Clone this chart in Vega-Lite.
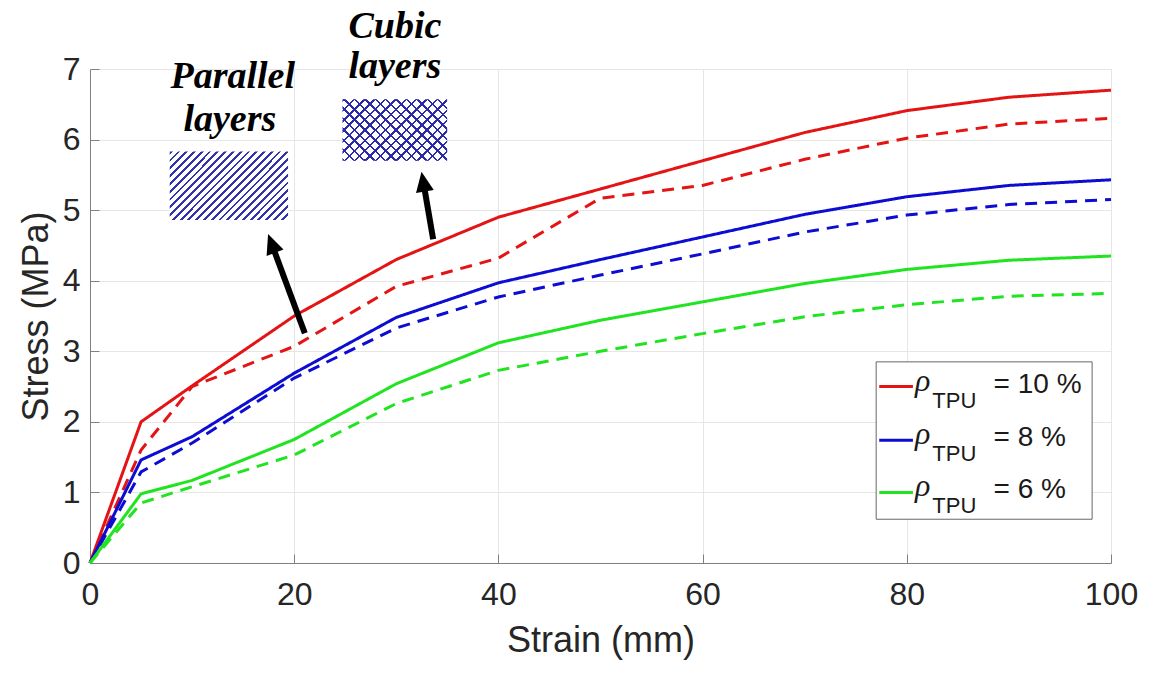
{
  "$schema": "https://vega.github.io/schema/vega-lite/v6.json",
  "width": 1021,
  "height": 494,
  "autosize": {"type": "none"},
  "padding": {"left": 90, "top": 69, "right": 43, "bottom": 115},
  "background": "white",
  "config": {
    "view": {"stroke": "#c8c8c8"},
    "axis": {
      "labelFont": "Liberation Sans",
      "labelFontSize": 32,
      "labelColor": "#262626",
      "titleFont": "Liberation Sans",
      "titleFontSize": 36,
      "titleFontWeight": "normal",
      "titleColor": "#262626",
      "gridColor": "#e6e6e6",
      "domainColor": "#808080",
      "tickColor": "#808080",
      "labelFlush": false,
      "labelOverlap": false
    }
  },
  "datasets": {
    "curves": [
      {"strain": 0, "stress": 0, "rho": "10 %", "type": "solid"},
      {"strain": 5, "stress": 2.0, "rho": "10 %", "type": "solid"},
      {"strain": 10, "stress": 2.51, "rho": "10 %", "type": "solid"},
      {"strain": 20, "stress": 3.5, "rho": "10 %", "type": "solid"},
      {"strain": 30, "stress": 4.3, "rho": "10 %", "type": "solid"},
      {"strain": 40, "stress": 4.9, "rho": "10 %", "type": "solid"},
      {"strain": 50, "stress": 5.3, "rho": "10 %", "type": "solid"},
      {"strain": 60, "stress": 5.7, "rho": "10 %", "type": "solid"},
      {"strain": 70, "stress": 6.1, "rho": "10 %", "type": "solid"},
      {"strain": 80, "stress": 6.41, "rho": "10 %", "type": "solid"},
      {"strain": 90, "stress": 6.6, "rho": "10 %", "type": "solid"},
      {"strain": 100, "stress": 6.7, "rho": "10 %", "type": "solid"},
      {"strain": 0, "stress": 0, "rho": "10 %", "type": "dashed"},
      {"strain": 5, "stress": 1.6, "rho": "10 %", "type": "dashed"},
      {"strain": 10, "stress": 2.5, "rho": "10 %", "type": "dashed"},
      {"strain": 20, "stress": 3.07, "rho": "10 %", "type": "dashed"},
      {"strain": 30, "stress": 3.92, "rho": "10 %", "type": "dashed"},
      {"strain": 40, "stress": 4.32, "rho": "10 %", "type": "dashed"},
      {"strain": 50, "stress": 5.17, "rho": "10 %", "type": "dashed"},
      {"strain": 60, "stress": 5.35, "rho": "10 %", "type": "dashed"},
      {"strain": 70, "stress": 5.72, "rho": "10 %", "type": "dashed"},
      {"strain": 80, "stress": 6.02, "rho": "10 %", "type": "dashed"},
      {"strain": 90, "stress": 6.22, "rho": "10 %", "type": "dashed"},
      {"strain": 100, "stress": 6.3, "rho": "10 %", "type": "dashed"},
      {"strain": 0, "stress": 0, "rho": "8 %", "type": "solid"},
      {"strain": 5, "stress": 1.46, "rho": "8 %", "type": "solid"},
      {"strain": 10, "stress": 1.79, "rho": "8 %", "type": "solid"},
      {"strain": 20, "stress": 2.69, "rho": "8 %", "type": "solid"},
      {"strain": 30, "stress": 3.48, "rho": "8 %", "type": "solid"},
      {"strain": 40, "stress": 3.97, "rho": "8 %", "type": "solid"},
      {"strain": 50, "stress": 4.3, "rho": "8 %", "type": "solid"},
      {"strain": 60, "stress": 4.62, "rho": "8 %", "type": "solid"},
      {"strain": 70, "stress": 4.94, "rho": "8 %", "type": "solid"},
      {"strain": 80, "stress": 5.19, "rho": "8 %", "type": "solid"},
      {"strain": 90, "stress": 5.35, "rho": "8 %", "type": "solid"},
      {"strain": 100, "stress": 5.43, "rho": "8 %", "type": "solid"},
      {"strain": 0, "stress": 0, "rho": "8 %", "type": "dashed"},
      {"strain": 5, "stress": 1.29, "rho": "8 %", "type": "dashed"},
      {"strain": 10, "stress": 1.7, "rho": "8 %", "type": "dashed"},
      {"strain": 20, "stress": 2.62, "rho": "8 %", "type": "dashed"},
      {"strain": 30, "stress": 3.33, "rho": "8 %", "type": "dashed"},
      {"strain": 40, "stress": 3.77, "rho": "8 %", "type": "dashed"},
      {"strain": 50, "stress": 4.08, "rho": "8 %", "type": "dashed"},
      {"strain": 60, "stress": 4.38, "rho": "8 %", "type": "dashed"},
      {"strain": 70, "stress": 4.69, "rho": "8 %", "type": "dashed"},
      {"strain": 80, "stress": 4.93, "rho": "8 %", "type": "dashed"},
      {"strain": 90, "stress": 5.08, "rho": "8 %", "type": "dashed"},
      {"strain": 100, "stress": 5.15, "rho": "8 %", "type": "dashed"},
      {"strain": 0, "stress": 0, "rho": "6 %", "type": "solid"},
      {"strain": 5, "stress": 0.98, "rho": "6 %", "type": "solid"},
      {"strain": 10, "stress": 1.17, "rho": "6 %", "type": "solid"},
      {"strain": 20, "stress": 1.75, "rho": "6 %", "type": "solid"},
      {"strain": 30, "stress": 2.54, "rho": "6 %", "type": "solid"},
      {"strain": 40, "stress": 3.12, "rho": "6 %", "type": "solid"},
      {"strain": 50, "stress": 3.44, "rho": "6 %", "type": "solid"},
      {"strain": 60, "stress": 3.7, "rho": "6 %", "type": "solid"},
      {"strain": 70, "stress": 3.96, "rho": "6 %", "type": "solid"},
      {"strain": 80, "stress": 4.16, "rho": "6 %", "type": "solid"},
      {"strain": 90, "stress": 4.29, "rho": "6 %", "type": "solid"},
      {"strain": 100, "stress": 4.35, "rho": "6 %", "type": "solid"},
      {"strain": 0, "stress": 0, "rho": "6 %", "type": "dashed"},
      {"strain": 5, "stress": 0.85, "rho": "6 %", "type": "dashed"},
      {"strain": 10, "stress": 1.08, "rho": "6 %", "type": "dashed"},
      {"strain": 20, "stress": 1.53, "rho": "6 %", "type": "dashed"},
      {"strain": 30, "stress": 2.26, "rho": "6 %", "type": "dashed"},
      {"strain": 40, "stress": 2.73, "rho": "6 %", "type": "dashed"},
      {"strain": 50, "stress": 3.0, "rho": "6 %", "type": "dashed"},
      {"strain": 60, "stress": 3.25, "rho": "6 %", "type": "dashed"},
      {"strain": 70, "stress": 3.49, "rho": "6 %", "type": "dashed"},
      {"strain": 80, "stress": 3.66, "rho": "6 %", "type": "dashed"},
      {"strain": 90, "stress": 3.78, "rho": "6 %", "type": "dashed"},
      {"strain": 100, "stress": 3.82, "rho": "6 %", "type": "dashed"}
    ],
    "legend": [
      {"rho": "10 %", "label": "= 10 %", "ly": 2.5},
      {"rho": "8 %", "label": "= 8 %", "ly": 1.74},
      {"rho": "6 %", "label": "= 6 %", "ly": 1.0}
    ],
    "notes": [
      {"t": "Parallel", "x": 13.98, "y": 6.73},
      {"t": "layers", "x": 13.7, "y": 6.12},
      {"t": "Cubic", "x": 29.86, "y": 7.44},
      {"t": "layers", "x": 29.86, "y": 6.87}
    ],
    "arrows": [
      {"x": 21.04, "y": 3.255, "x2": 18.0, "y2": 4.442},
      {"x": 33.61, "y": 4.587, "x2": 32.74, "y2": 5.321}
    ]
  },
  "layer": [
    {
      "data": {"name": "curves"},
      "mark": {"type": "line", "strokeWidth": 3},
      "encoding": {
        "x": {
          "field": "strain", "type": "quantitative", "title": "Strain (mm)",
          "scale": {"domain": [0, 100], "nice": false},
          "axis": {"values": [0, 20, 40, 60, 80, 100], "format": "d", "grid": true, "ticks": true, "tickSize": -9, "labelPadding": 25, "titlePadding": 13}
        },
        "y": {
          "field": "stress", "type": "quantitative", "title": "Stress (MPa)",
          "scale": {"domain": [0, 7], "nice": false},
          "axis": {"values": [0, 1, 2, 3, 4, 5, 6, 7], "format": "d", "grid": true, "ticks": true, "tickSize": -9, "labelPadding": 19, "titlePadding": 7}
        },
        "color": {
          "field": "rho", "type": "nominal",
          "scale": {"domain": ["10 %", "8 %", "6 %"], "range": ["#e41414", "#0c0cd2", "#1fe41f"]},
          "legend": null
        },
        "strokeDash": {
          "field": "type", "type": "nominal",
          "scale": {"domain": ["solid", "dashed"], "range": [[1, 0], [12, 8]]},
          "legend": null
        }
      }
    },
    {
      "data": {"values": [{"x": 7.81, "x2": 19.4, "y": 4.86, "y2": 5.83}]},
      "mark": {
        "type": "rect",
        "fill": {
          "gradient": "linear", "x1": 0, "y1": 0, "x2": 1.183, "y2": 0.683,
          "stops": [
            {"offset": 0, "color": "#3333aa"}, {"offset": 0.015, "color": "#3333aa"}, {"offset": 0.015, "color": "#ffffff"}, {"offset": 0.0417, "color": "#ffffff"},
            {"offset": 0.0417, "color": "#3333aa"}, {"offset": 0.0567, "color": "#3333aa"}, {"offset": 0.0567, "color": "#ffffff"}, {"offset": 0.0833, "color": "#ffffff"},
            {"offset": 0.0833, "color": "#3333aa"}, {"offset": 0.0983, "color": "#3333aa"}, {"offset": 0.0983, "color": "#ffffff"}, {"offset": 0.125, "color": "#ffffff"},
            {"offset": 0.125, "color": "#3333aa"}, {"offset": 0.14, "color": "#3333aa"}, {"offset": 0.14, "color": "#ffffff"}, {"offset": 0.1667, "color": "#ffffff"},
            {"offset": 0.1667, "color": "#3333aa"}, {"offset": 0.1817, "color": "#3333aa"}, {"offset": 0.1817, "color": "#ffffff"}, {"offset": 0.2083, "color": "#ffffff"},
            {"offset": 0.2083, "color": "#3333aa"}, {"offset": 0.2233, "color": "#3333aa"}, {"offset": 0.2233, "color": "#ffffff"}, {"offset": 0.25, "color": "#ffffff"},
            {"offset": 0.25, "color": "#3333aa"}, {"offset": 0.265, "color": "#3333aa"}, {"offset": 0.265, "color": "#ffffff"}, {"offset": 0.2917, "color": "#ffffff"},
            {"offset": 0.2917, "color": "#3333aa"}, {"offset": 0.3067, "color": "#3333aa"}, {"offset": 0.3067, "color": "#ffffff"}, {"offset": 0.3333, "color": "#ffffff"},
            {"offset": 0.3333, "color": "#3333aa"}, {"offset": 0.3483, "color": "#3333aa"}, {"offset": 0.3483, "color": "#ffffff"}, {"offset": 0.375, "color": "#ffffff"},
            {"offset": 0.375, "color": "#3333aa"}, {"offset": 0.39, "color": "#3333aa"}, {"offset": 0.39, "color": "#ffffff"}, {"offset": 0.4167, "color": "#ffffff"},
            {"offset": 0.4167, "color": "#3333aa"}, {"offset": 0.4317, "color": "#3333aa"}, {"offset": 0.4317, "color": "#ffffff"}, {"offset": 0.4583, "color": "#ffffff"},
            {"offset": 0.4583, "color": "#3333aa"}, {"offset": 0.4733, "color": "#3333aa"}, {"offset": 0.4733, "color": "#ffffff"}, {"offset": 0.5, "color": "#ffffff"},
            {"offset": 0.5, "color": "#3333aa"}, {"offset": 0.515, "color": "#3333aa"}, {"offset": 0.515, "color": "#ffffff"}, {"offset": 0.5417, "color": "#ffffff"},
            {"offset": 0.5417, "color": "#3333aa"}, {"offset": 0.5567, "color": "#3333aa"}, {"offset": 0.5567, "color": "#ffffff"}, {"offset": 0.5833, "color": "#ffffff"},
            {"offset": 0.5833, "color": "#3333aa"}, {"offset": 0.5983, "color": "#3333aa"}, {"offset": 0.5983, "color": "#ffffff"}, {"offset": 0.625, "color": "#ffffff"},
            {"offset": 0.625, "color": "#3333aa"}, {"offset": 0.64, "color": "#3333aa"}, {"offset": 0.64, "color": "#ffffff"}, {"offset": 0.6667, "color": "#ffffff"},
            {"offset": 0.6667, "color": "#3333aa"}, {"offset": 0.6817, "color": "#3333aa"}, {"offset": 0.6817, "color": "#ffffff"}, {"offset": 0.7083, "color": "#ffffff"},
            {"offset": 0.7083, "color": "#3333aa"}, {"offset": 0.7233, "color": "#3333aa"}, {"offset": 0.7233, "color": "#ffffff"}, {"offset": 0.75, "color": "#ffffff"},
            {"offset": 0.75, "color": "#3333aa"}, {"offset": 0.765, "color": "#3333aa"}, {"offset": 0.765, "color": "#ffffff"}, {"offset": 0.7917, "color": "#ffffff"},
            {"offset": 0.7917, "color": "#3333aa"}, {"offset": 0.8067, "color": "#3333aa"}, {"offset": 0.8067, "color": "#ffffff"}, {"offset": 0.8333, "color": "#ffffff"},
            {"offset": 0.8333, "color": "#3333aa"}, {"offset": 0.8483, "color": "#3333aa"}, {"offset": 0.8483, "color": "#ffffff"}, {"offset": 0.875, "color": "#ffffff"},
            {"offset": 0.875, "color": "#3333aa"}, {"offset": 0.89, "color": "#3333aa"}, {"offset": 0.89, "color": "#ffffff"}, {"offset": 0.9167, "color": "#ffffff"},
            {"offset": 0.9167, "color": "#3333aa"}, {"offset": 0.9317, "color": "#3333aa"}, {"offset": 0.9317, "color": "#ffffff"}, {"offset": 0.9583, "color": "#ffffff"},
            {"offset": 0.9583, "color": "#3333aa"}, {"offset": 0.9733, "color": "#3333aa"}, {"offset": 0.9733, "color": "#ffffff"}, {"offset": 1, "color": "#ffffff"}
          ]
        }
      },
      "encoding": {
        "x": {"field": "x", "type": "quantitative", "title": "Strain (mm)"},
        "x2": {"field": "x2"},
        "y": {"field": "y", "type": "quantitative", "title": "Stress (MPa)"},
        "y2": {"field": "y2"}
      }
    },
    {
      "data": {"values": [{"x": 24.73, "x2": 34.98, "y": 5.7, "y2": 6.57}]},
      "mark": {
        "type": "rect",
        "fill": {
          "gradient": "linear", "x1": 0, "y1": 0, "x2": 1.18, "y2": 0.693,
          "stops": [
            {"offset": 0, "color": "#2a2aa8"}, {"offset": 0.015, "color": "#2a2aa8"}, {"offset": 0.015, "color": "#ffffff"}, {"offset": 0.0625, "color": "#ffffff"},
            {"offset": 0.0625, "color": "#2a2aa8"}, {"offset": 0.0775, "color": "#2a2aa8"}, {"offset": 0.0775, "color": "#ffffff"}, {"offset": 0.125, "color": "#ffffff"},
            {"offset": 0.125, "color": "#2a2aa8"}, {"offset": 0.14, "color": "#2a2aa8"}, {"offset": 0.14, "color": "#ffffff"}, {"offset": 0.1875, "color": "#ffffff"},
            {"offset": 0.1875, "color": "#2a2aa8"}, {"offset": 0.2025, "color": "#2a2aa8"}, {"offset": 0.2025, "color": "#ffffff"}, {"offset": 0.25, "color": "#ffffff"},
            {"offset": 0.25, "color": "#2a2aa8"}, {"offset": 0.265, "color": "#2a2aa8"}, {"offset": 0.265, "color": "#ffffff"}, {"offset": 0.3125, "color": "#ffffff"},
            {"offset": 0.3125, "color": "#2a2aa8"}, {"offset": 0.3275, "color": "#2a2aa8"}, {"offset": 0.3275, "color": "#ffffff"}, {"offset": 0.375, "color": "#ffffff"},
            {"offset": 0.375, "color": "#2a2aa8"}, {"offset": 0.39, "color": "#2a2aa8"}, {"offset": 0.39, "color": "#ffffff"}, {"offset": 0.4375, "color": "#ffffff"},
            {"offset": 0.4375, "color": "#2a2aa8"}, {"offset": 0.4525, "color": "#2a2aa8"}, {"offset": 0.4525, "color": "#ffffff"}, {"offset": 0.5, "color": "#ffffff"},
            {"offset": 0.5, "color": "#2a2aa8"}, {"offset": 0.515, "color": "#2a2aa8"}, {"offset": 0.515, "color": "#ffffff"}, {"offset": 0.5625, "color": "#ffffff"},
            {"offset": 0.5625, "color": "#2a2aa8"}, {"offset": 0.5775, "color": "#2a2aa8"}, {"offset": 0.5775, "color": "#ffffff"}, {"offset": 0.625, "color": "#ffffff"},
            {"offset": 0.625, "color": "#2a2aa8"}, {"offset": 0.64, "color": "#2a2aa8"}, {"offset": 0.64, "color": "#ffffff"}, {"offset": 0.6875, "color": "#ffffff"},
            {"offset": 0.6875, "color": "#2a2aa8"}, {"offset": 0.7025, "color": "#2a2aa8"}, {"offset": 0.7025, "color": "#ffffff"}, {"offset": 0.75, "color": "#ffffff"},
            {"offset": 0.75, "color": "#2a2aa8"}, {"offset": 0.765, "color": "#2a2aa8"}, {"offset": 0.765, "color": "#ffffff"}, {"offset": 0.8125, "color": "#ffffff"},
            {"offset": 0.8125, "color": "#2a2aa8"}, {"offset": 0.8275, "color": "#2a2aa8"}, {"offset": 0.8275, "color": "#ffffff"}, {"offset": 0.875, "color": "#ffffff"},
            {"offset": 0.875, "color": "#2a2aa8"}, {"offset": 0.89, "color": "#2a2aa8"}, {"offset": 0.89, "color": "#ffffff"}, {"offset": 0.9375, "color": "#ffffff"},
            {"offset": 0.9375, "color": "#2a2aa8"}, {"offset": 0.9525, "color": "#2a2aa8"}, {"offset": 0.9525, "color": "#ffffff"}, {"offset": 1, "color": "#ffffff"}
          ]
        }
      },
      "encoding": {
        "x": {"field": "x", "type": "quantitative", "title": "Strain (mm)"},
        "x2": {"field": "x2"},
        "y": {"field": "y", "type": "quantitative", "title": "Stress (MPa)"},
        "y2": {"field": "y2"}
      }
    },
    {
      "data": {"values": [{"x": 24.73, "x2": 34.98, "y": 5.7, "y2": 6.57}]},
      "mark": {
        "type": "rect",
        "fill": {
          "gradient": "linear", "x1": 0, "y1": 1, "x2": 1.18, "y2": 0.307,
          "stops": [
            {"offset": 0, "color": "#2a2aa8"}, {"offset": 0.015, "color": "#2a2aa8"}, {"offset": 0.015, "color": "transparent"}, {"offset": 0.0625, "color": "transparent"},
            {"offset": 0.0625, "color": "#2a2aa8"}, {"offset": 0.0775, "color": "#2a2aa8"}, {"offset": 0.0775, "color": "transparent"}, {"offset": 0.125, "color": "transparent"},
            {"offset": 0.125, "color": "#2a2aa8"}, {"offset": 0.14, "color": "#2a2aa8"}, {"offset": 0.14, "color": "transparent"}, {"offset": 0.1875, "color": "transparent"},
            {"offset": 0.1875, "color": "#2a2aa8"}, {"offset": 0.2025, "color": "#2a2aa8"}, {"offset": 0.2025, "color": "transparent"}, {"offset": 0.25, "color": "transparent"},
            {"offset": 0.25, "color": "#2a2aa8"}, {"offset": 0.265, "color": "#2a2aa8"}, {"offset": 0.265, "color": "transparent"}, {"offset": 0.3125, "color": "transparent"},
            {"offset": 0.3125, "color": "#2a2aa8"}, {"offset": 0.3275, "color": "#2a2aa8"}, {"offset": 0.3275, "color": "transparent"}, {"offset": 0.375, "color": "transparent"},
            {"offset": 0.375, "color": "#2a2aa8"}, {"offset": 0.39, "color": "#2a2aa8"}, {"offset": 0.39, "color": "transparent"}, {"offset": 0.4375, "color": "transparent"},
            {"offset": 0.4375, "color": "#2a2aa8"}, {"offset": 0.4525, "color": "#2a2aa8"}, {"offset": 0.4525, "color": "transparent"}, {"offset": 0.5, "color": "transparent"},
            {"offset": 0.5, "color": "#2a2aa8"}, {"offset": 0.515, "color": "#2a2aa8"}, {"offset": 0.515, "color": "transparent"}, {"offset": 0.5625, "color": "transparent"},
            {"offset": 0.5625, "color": "#2a2aa8"}, {"offset": 0.5775, "color": "#2a2aa8"}, {"offset": 0.5775, "color": "transparent"}, {"offset": 0.625, "color": "transparent"},
            {"offset": 0.625, "color": "#2a2aa8"}, {"offset": 0.64, "color": "#2a2aa8"}, {"offset": 0.64, "color": "transparent"}, {"offset": 0.6875, "color": "transparent"},
            {"offset": 0.6875, "color": "#2a2aa8"}, {"offset": 0.7025, "color": "#2a2aa8"}, {"offset": 0.7025, "color": "transparent"}, {"offset": 0.75, "color": "transparent"},
            {"offset": 0.75, "color": "#2a2aa8"}, {"offset": 0.765, "color": "#2a2aa8"}, {"offset": 0.765, "color": "transparent"}, {"offset": 0.8125, "color": "transparent"},
            {"offset": 0.8125, "color": "#2a2aa8"}, {"offset": 0.8275, "color": "#2a2aa8"}, {"offset": 0.8275, "color": "transparent"}, {"offset": 0.875, "color": "transparent"},
            {"offset": 0.875, "color": "#2a2aa8"}, {"offset": 0.89, "color": "#2a2aa8"}, {"offset": 0.89, "color": "transparent"}, {"offset": 0.9375, "color": "transparent"},
            {"offset": 0.9375, "color": "#2a2aa8"}, {"offset": 0.9525, "color": "#2a2aa8"}, {"offset": 0.9525, "color": "transparent"}, {"offset": 1, "color": "transparent"}
          ]
        }
      },
      "encoding": {
        "x": {"field": "x", "type": "quantitative", "title": "Strain (mm)"},
        "x2": {"field": "x2"},
        "y": {"field": "y", "type": "quantitative", "title": "Stress (MPa)"},
        "y2": {"field": "y2"}
      }
    },
    {
      "data": {"name": "notes"},
      "mark": {"type": "text", "font": "Liberation Serif", "fontSize": 38, "fontWeight": "bold", "fontStyle": "italic", "align": "center", "baseline": "alphabetic", "color": "#000000"},
      "encoding": {
        "x": {"field": "x", "type": "quantitative", "title": "Strain (mm)"},
        "y": {"field": "y", "type": "quantitative", "title": "Stress (MPa)"},
        "text": {"field": "t"}
      }
    },
    {
      "data": {"name": "arrows"},
      "mark": {"type": "rule", "strokeWidth": 6, "color": "#000000"},
      "encoding": {
        "x": {"field": "x", "type": "quantitative", "title": "Strain (mm)"},
        "x2": {"field": "x2"},
        "y": {"field": "y", "type": "quantitative", "title": "Stress (MPa)"},
        "y2": {"field": "y2"}
      }
    },
    {
      "data": {"values": [{"x": 17.44, "y": 4.662}]},
      "mark": {"type": "point", "shape": "M0,0L0.45,1L-0.45,1Z", "size": 1600, "angle": -20.5, "filled": true, "color": "#000000", "opacity": 1},
      "encoding": {
        "x": {"field": "x", "type": "quantitative", "title": "Strain (mm)"},
        "y": {"field": "y", "type": "quantitative", "title": "Stress (MPa)"}
      }
    },
    {
      "data": {"values": [{"x": 32.47, "y": 5.545}]},
      "mark": {"type": "point", "shape": "M0,0L0.45,1L-0.45,1Z", "size": 1600, "angle": -9.7, "filled": true, "color": "#000000", "opacity": 1},
      "encoding": {
        "x": {"field": "x", "type": "quantitative", "title": "Strain (mm)"},
        "y": {"field": "y", "type": "quantitative", "title": "Stress (MPa)"}
      }
    },
    {
      "data": {"values": [{"x": 77.0, "x2": 98.15, "y": 0.62, "y2": 2.85}]},
      "mark": {"type": "rect", "fill": "#ffffff", "stroke": "#666666", "strokeWidth": 1},
      "encoding": {
        "x": {"field": "x", "type": "quantitative", "title": "Strain (mm)"},
        "x2": {"field": "x2"},
        "y": {"field": "y", "type": "quantitative", "title": "Stress (MPa)"},
        "y2": {"field": "y2"}
      }
    },
    {
      "data": {"name": "legend"},
      "mark": {"type": "rule", "strokeWidth": 3},
      "encoding": {
        "x": {"datum": 77.3, "type": "quantitative", "title": "Strain (mm)"},
        "x2": {"datum": 80.6},
        "y": {"field": "ly", "type": "quantitative", "title": "Stress (MPa)"},
        "color": {"field": "rho", "type": "nominal", "legend": null}
      }
    },
    {
      "data": {"name": "legend"},
      "mark": {"type": "text", "text": "ρ", "font": "Liberation Serif", "fontStyle": "italic", "fontSize": 32, "align": "left", "baseline": "alphabetic", "dy": 4, "color": "#1a1a1a"},
      "encoding": {
        "x": {"datum": 80.8, "type": "quantitative", "title": "Strain (mm)"},
        "y": {"field": "ly", "type": "quantitative", "title": "Stress (MPa)"}
      }
    },
    {
      "data": {"name": "legend"},
      "mark": {"type": "text", "text": "TPU", "font": "Liberation Sans", "fontSize": 22, "align": "left", "baseline": "alphabetic", "dy": 21, "color": "#1a1a1a"},
      "encoding": {
        "x": {"datum": 82.5, "type": "quantitative", "title": "Strain (mm)"},
        "y": {"field": "ly", "type": "quantitative", "title": "Stress (MPa)"}
      }
    },
    {
      "data": {"name": "legend"},
      "mark": {"type": "text", "font": "Liberation Sans", "fontSize": 28, "align": "left", "baseline": "alphabetic", "dy": 6, "color": "#1a1a1a"},
      "encoding": {
        "x": {"datum": 88.5, "type": "quantitative", "title": "Strain (mm)"},
        "y": {"field": "ly", "type": "quantitative", "title": "Stress (MPa)"},
        "text": {"field": "label"}
      }
    }
  ]
}
